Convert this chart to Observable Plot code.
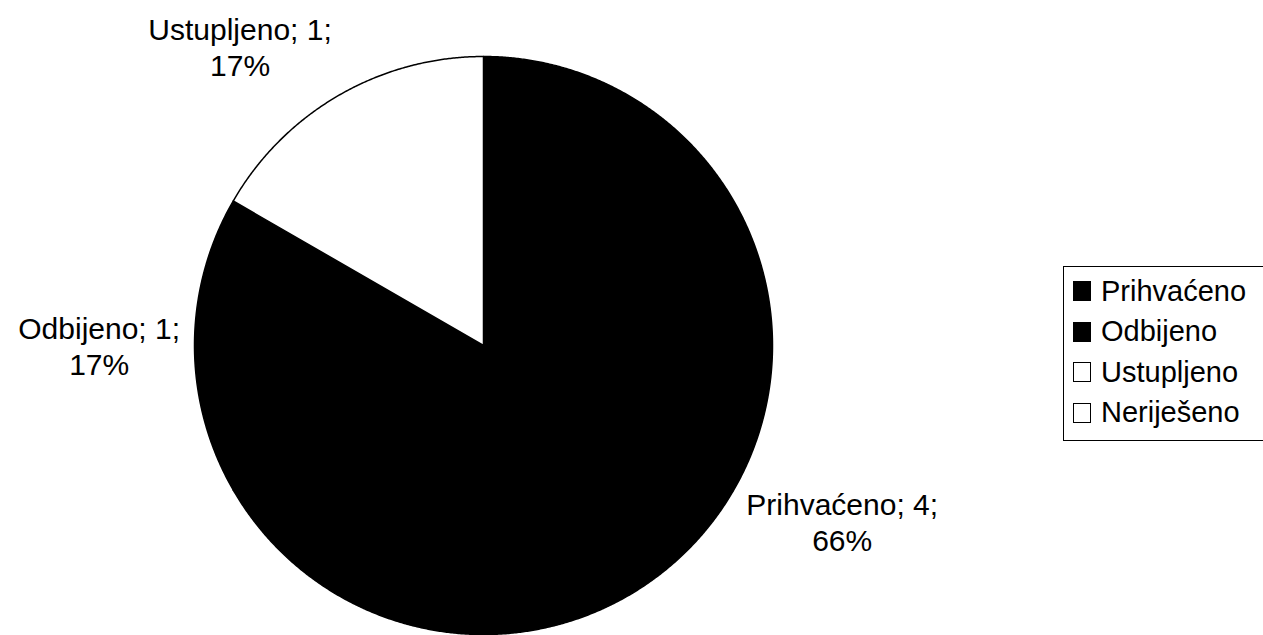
<!DOCTYPE html>
<html>
<head>
<meta charset="utf-8">
<script src="https://cdn.jsdelivr.net/npm/d3@7"></script>
<script src="https://cdn.jsdelivr.net/npm/@observablehq/plot@0.6"></script>
<style>
  body { margin: 0; background: #fff; overflow: hidden; }
  #wrap { position: relative; width: 1263px; height: 635px; overflow: hidden; }
  #legend {
    position: absolute; left: 1063px; top: 266px; width: 240px; height: 175px;
    border: 1.5px solid #000; box-sizing: border-box; padding-top: 4px;
    font-family: 'Liberation Sans', Arial, sans-serif; font-size: 29px; color: #000;
  }
  .row { height: 40.5px; display: flex; align-items: center; }
  .sw { width: 16px; height: 18px; border: 1.5px solid #000; margin-left: 9px; margin-right: 10px; box-sizing: content-box; }
</style>
</head>
<body>
<div id="wrap"></div>
<script>
// ---- data ----
const categories = ["Prihvaćeno", "Odbijeno", "Ustupljeno", "Neriješeno"];
const counts = [4, 1, 1, 0];
const percentLabels = ["66%", "17%", "17%", "0%"];
const sliceColors = ["#000000", "#000000", "#ffffff", "#ffffff"];

// ---- layout ----
const W = 1263, H = 635;
const cx = 483, cy = 345, r = 289;
const labelFont = "30px 'Liberation Sans', Arial, sans-serif";
const lineH = 1.2 * 30;

const rows = categories.map((name, i) => ({name, count: counts[i], pct: percentLabels[i], color: sliceColors[i]}));
const arcs = d3.pie().sort(null).value(d => d.count)(rows);

// slice polygons (unit radius, y up)
const polys = [];
arcs.forEach(a => {
  if (a.endAngle <= a.startAngle) return;
  const n = Math.max(8, Math.ceil((a.endAngle - a.startAngle) / 0.005));
  polys.push({name: a.data.name, color: a.data.color, x: 0, y: 0});
  for (let k = 0; k <= n; k++) {
    const t = a.startAngle + (a.endAngle - a.startAngle) * k / n;
    polys.push({name: a.data.name, color: a.data.color, x: Math.sin(t), y: Math.cos(t)});
  }
  polys.push({name: a.data.name, color: a.data.color, x: 0, y: 0});
});

// labels placed outside the slice at its mid angle
const ctx = document.createElement("canvas").getContext("2d");
ctx.font = labelFont;
const labels = arcs.filter(a => a.data.count > 0).map(a => {
  const mid = (a.startAngle + a.endAngle) / 2;
  const dx = Math.sin(mid), dy = Math.cos(mid);
  const lines = [`${a.data.name}; ${a.data.count};`, a.data.pct];
  const w = Math.max(...lines.map(s => ctx.measureText(s).width));
  const h = lines.length * lineH;
  const R = 1.05;
  const sx = dx > 0.1 ? 1 : dx < -0.1 ? -1 : 0;
  const sy = dy > 0.1 ? 1 : dy < -0.1 ? -1 : 0;
  const offY = sy > 0 ? h / 2 : sy < 0 ? -(h / 2 - 12) : 0;
  return {
    text: lines.join("\n"),
    x: R * dx + sx * (w / 2) / r,
    y: R * dy + offY / r
  };
});

const plot = Plot.plot({
  width: W, height: H,
  margin: 0,
  x: {domain: [-cx / r, (W - cx) / r], range: [0, W], axis: null},
  y: {domain: [-(H - cy) / r, cy / r], range: [H, 0], axis: null},
  color: {type: "identity"},
  style: {background: "#fff"},
  marks: [
    Plot.line(polys, {x: "x", y: "y", z: "name", fill: "color", stroke: "#000", strokeWidth: 1.5, curve: "linear"}),
    Plot.text(labels, {x: "x", y: "y", text: "text", textAnchor: "middle", lineAnchor: "middle",
      lineHeight: 1.2, fontSize: 30, fontFamily: "'Liberation Sans', Arial, sans-serif", fill: "#000"})
  ]
});
const wrap = document.getElementById("wrap");
wrap.appendChild(plot);

// legend
const legend = document.createElement("div");
legend.id = "legend";
rows.forEach(d => {
  const row = document.createElement("div");
  row.className = "row";
  const sw = document.createElement("span");
  sw.className = "sw";
  sw.style.background = d.color;
  const tx = document.createElement("span");
  tx.textContent = d.name;
  row.appendChild(sw);
  row.appendChild(tx);
  legend.appendChild(row);
});
wrap.appendChild(legend);
</script>
</body>
</html>
